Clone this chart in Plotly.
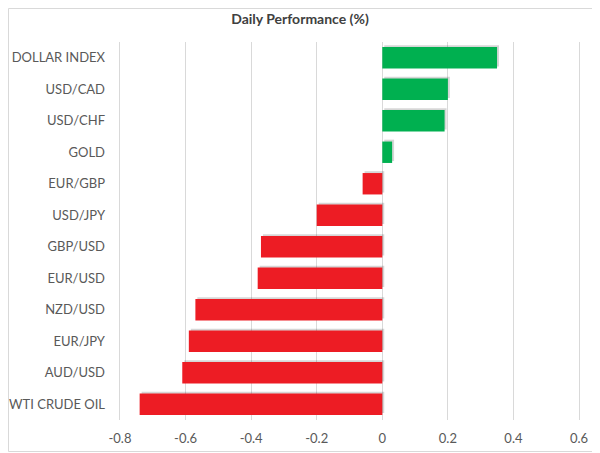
import plotly.graph_objects as go

categories = ["DOLLAR INDEX", "USD/CAD", "USD/CHF", "GOLD", "EUR/GBP", "USD/JPY",
              "GBP/USD", "EUR/USD", "NZD/USD", "EUR/JPY", "AUD/USD", "WTI CRUDE OIL"]
values = [0.35, 0.20, 0.19, 0.03, -0.06, -0.20, -0.37, -0.38, -0.57, -0.59, -0.61, -0.74]
tick_vals = [-0.8, -0.6, -0.4, -0.2, 0, 0.2, 0.4, 0.6]
tick_text = ["-0.8", "-0.6", "-0.4", "-0.2", "0", "0.2", "0.4", "0.6"]

GREEN = "#00B050"
RED = "#ED1C24"
colors = [GREEN if v >= 0 else RED for v in values]
text_color = "#595959"
font_family = "Lato, Carlito, 'Open Sans', sans-serif"

# page has an 8px body margin, so the figure is sized to fit the 600x453 window
W, H = 592, 445
L, R, T, B = 110, 19, 34, 33

bar_w = 0.68
fig = go.Figure()
# soft drop shadow
fig.add_trace(go.Bar(
    y=categories, x=values, orientation="h", base=0.006,
    width=bar_w, offset=-bar_w / 2 + 0.06,
    marker=dict(color="rgba(0,0,0,0.16)", line=dict(width=0)),
    hoverinfo="skip", showlegend=False,
))
fig.add_trace(go.Bar(
    y=categories, x=values, orientation="h",
    width=bar_w, offset=-bar_w / 2,
    marker=dict(color=colors, line=dict(width=0)),
    showlegend=False,
))

pw = W - L - R
ph = H - T - B
fig.update_layout(
    width=W, height=H,
    paper_bgcolor="white", plot_bgcolor="white",
    margin=dict(l=L, r=R, t=T, b=B, pad=0),
    barmode="overlay",
    title=dict(text="<b>Daily Performance (%)</b>", x=(300 - 8) / W, xanchor="center",
               y=1 - 11 / H, yanchor="middle",
               font=dict(family=font_family, size=14, color="#404040")),
    font=dict(family=font_family, size=13, color=text_color),
    xaxis=dict(range=[-0.806, 0.606], tickvals=tick_vals, ticktext=tick_text,
               showgrid=True, gridcolor="#D9D9D9", gridwidth=1,
               zeroline=False, showline=False, ticks="", automargin=False,
               ticklabelstandoff=9,
               tickfont=dict(size=13, color=text_color)),
    yaxis=dict(categoryorder="array", categoryarray=categories[::-1],
               showgrid=False, zeroline=False, showline=False, ticks="",
               automargin=False, ticklabelstandoff=12,
               tickfont=dict(size=13, color=text_color)),
    shapes=[dict(type="rect", xref="paper", yref="paper",
                 x0=-(L - 0.5) / pw, x1=1 + (R - 1.5) / pw,
                 y0=-(B - 1.5) / ph, y1=1 + (T - 0.5) / ph,
                 line=dict(color="#D9D9D9", width=1), fillcolor="rgba(0,0,0,0)",
                 layer="below")],
)

fig.write_html("out.html")
